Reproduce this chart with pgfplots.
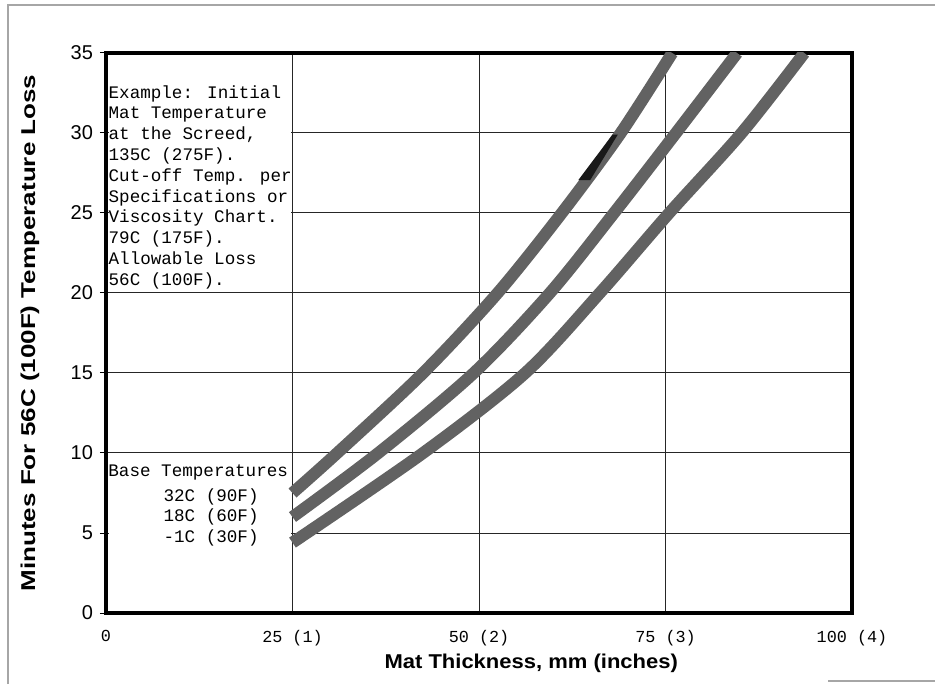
\documentclass[border=0pt]{standalone}
\usepackage{pgfplots}
\pgfplotsset{compat=1.18}
\usepackage{fontspec}
\setmainfont{Liberation Sans}
\newfontfamily\cadfont{Liberation Mono}
\newfontfamily\ylabfont[FakeStretch=1.3]{Liberation Sans}
\newfontfamily\xlabfont[FakeStretch=1.1]{Liberation Sans}
\definecolor{band}{RGB}{98,98,98}

\begin{document}
\begin{tikzpicture}
\path[use as bounding box] (-53pt,-35.5pt) rectangle (414.5pt,306.5pt);
% page frame
\draw[gray!70, line width=0.6pt] (-49pt,-35.5pt) -- (-49pt,304pt) -- (414.5pt,304pt);
\draw[gray!70, line width=0.6pt] (361pt,-34pt) -- (414.5pt,-34pt);
\begin{axis}[
    at={(0pt,0pt)}, anchor=south west,
    width=373pt, height=280pt, scale only axis,
    xmin=0, xmax=100, ymin=0, ymax=35,
    xtick={0,25,50,75,100},
    xticklabels={0, 25 (1), 50 (2), 75 (3), 100 (4)},
    ytick={0,5,...,35},
    yticklabels={0,5,10,15,20,25,30,35},
    xtick pos=bottom, ytick pos=left,
    tick align=outside, major tick length=3pt,
    xtick style={draw=none},
    ytick style={black, line width=0.5pt},
    grid=major,
    grid style={black!85, line width=0.5pt},
    axis line style={black, line width=2.4pt},
    yticklabel style={font=\fontsize{10}{12}\selectfont},
    xticklabel style={font=\cadfont\fontsize{8.4}{10}\selectfont, yshift=-2pt},
    xlabel={Mat Thickness, mm (inches)},
    xlabel style={font=\xlabfont\bfseries\fontsize{10}{12}\selectfont,
        at={(axis description cs:0.57,-0.089)}, anchor=center},
    ylabel={Minutes For 56C (100F) Temperature Loss},
    ylabel style={font=\ylabfont\bfseries\fontsize{10}{12}\selectfont,
        at={(axis description cs:-0.102,0.5)}, anchor=center},
]
    % white boxes behind the notes
    \fill[white] (axis cs:0.35,20.15) rectangle (axis cs:24.75,34.75);
    \fill[white] (axis cs:0.35,3.6) rectangle (axis cs:24.75,9.85);

    \node[anchor=north west, align=left, inner sep=0pt,
          font=\cadfont\fontsize{8.8}{10.4}\selectfont, yshift=-16pt]
        at (axis cs:0.3,35) {Example: Initial\\Mat Temperature\\at the Screed,\\135C (275F).\\Cut-off Temp. per\\Specifications or\\Viscosity Chart.\\79C (175F).\\Allowable Loss\\56C (100F).};

    \begin{scope}[every node/.style={anchor=base west, inner sep=0pt, font=\cadfont\fontsize{8.8}{10.5}\selectfont}]
    \node at (axis cs:0.27,8.5) {Base Temperatures};
    \node at (axis cs:7.66,6.94) {32C (90F)};
    \node at (axis cs:7.66,5.69) {18C (60F)};
    \node at (axis cs:7.66,4.38) {-1C (30F)};
    \end{scope}

    % 32C (90F)
    \addplot[band, line width=6pt, smooth] coordinates {
        (25,7.5) (31,10) (42.5,15) (52.5,20) (61.1,25) (69,30) (75.9,35)};
    % 18C (60F)
    \addplot[band, line width=6pt, smooth] coordinates {
        (25,6.0) (36.5,10) (49.3,15) (59.5,20) (68.1,25) (76.4,30) (84.6,35)};
    % -1C (30F)
    \addplot[band, line width=6pt, smooth] coordinates {
        (25,4.4) (42.5,10) (56.2,15) (66.2,20) (75.5,25) (85.2,30) (93.6,35)};
    % dark patch on the upper band
    \addplot[fill=black!90, draw=none] coordinates {
        (63.3,27.05) (64.9,27.05) (68.6,29.9) (67.9,29.9)} -- cycle;
\end{axis}
\end{tikzpicture}
\end{document}
